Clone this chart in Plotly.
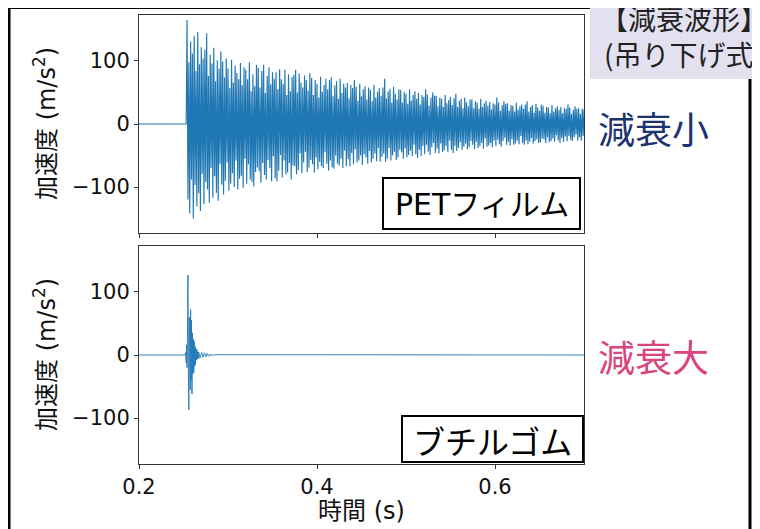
import plotly.graph_objects as go

# ---------------- data ----------------
t_start = 0.2
t_end = 0.7

# PET film: acceleration samples (m/s^2); first sample = onset baseline
pet_onset = 0.253
pet_dt = 0.001
pet_values = [
    0,
    165, -120, 98, -142, 131, -88, 112, -150, 140, -97, 84, -131, 146, -110, 95, -138, 122, -79, 104, -127,
    118, -92, 144, -104, 76, -125, 110, -70, 96, -117, 121, -83, 68, -109, 101, -122, 88, -64, 115, -96,
    99, -112, 74, -90, 104, -61, 88, -106, 57, -95, 102, -78, 66, -100, 93, -58, 81, -104, 71, -87,
    97, -82, 62, -101, 90, -55, 86, -95, 71, -64, 98, -88, 52, -92, 79, -99, 60, -76, 94, -69,
    89, -75, 58, -93, 84, -62, 94, -81, 49, -88, 76, -57, 90, -70, 63, -91, 82, -51, 72, -86,
    82, -91, 55, -74, 87, -49, 71, -85, 64, -58, 86, -80, 46, -77, 79, -62, 52, -88, 74, -66,
    78, -67, 86, -80, 50, -73, 80, -47, 66, -78, 58, -61, 77, -44, 70, -76, 53, -69, 81, -57,
    73, -64, 46, -77, 70, -53, 64, -72, 42, -60, 75, -67, 51, -70, 62, -45, 72, -63, 55, -74,
    70, -58, 74, -69, 44, -71, 61, -50, 68, -63, 40, -66, 72, -55, 49, -70, 64, -42, 58, -67,
    65, -56, 41, -67, 62, -46, 57, -64, 70, -40, 59, -61, 37, -58, 64, -50, 44, -65, 55, -48,
    60, -53, 39, -63, 58, -43, 54, -61, 36, -55, 62, -47, 42, -59, 51, -38, 57, -60, 45, -52,
    58, -47, 72, -60, 41, -55, 52, -38, 56, -58, 34, -50, 59, -44, 48, -57, 39, -53, 55, -41,
    54, -45, 34, -55, 51, -39, 48, -53, 32, -49, 55, -42, 37, -51, 46, -33, 52, -48, 40, -54,
    49, -41, 31, -51, 46, -35, 43, -48, 55, -33, 47, -44, 29, -49, 42, -37, 50, -30, 45, -46,
    45, -39, 28, -47, 42, -31, 40, -45, 27, -42, 46, -35, 33, -44, 38, -26, 43, -41, 30, -46,
    41, -35, 48, -43, 27, -38, 37, -29, 40, -41, 25, -36, 42, -31, 34, -40, 28, -37, 39, -27,
    39, -33, 25, -40, 36, -28, 34, -38, 24, -35, 40, -30, 27, -39, 33, -23, 37, -36, 29, -34,
    35, -30, 23, -37, 33, -26, 31, -35, 42, -25, 34, -32, 21, -36, 30, -27, 36, -22, 32, -33,
    33, -28, 21, -34, 30, -24, 29, -33, 20, -31, 34, -26, 23, -32, 28, -19, 31, -30, 24, -33,
    31, -26, 36, -32, 20, -28, 27, -22, 30, -31, 18, -27, 32, -24, 26, -30, 21, -29, 31, -23,
    29, -24, 18, -30, 27, -21, 26, -29, 17, -27, 30, -23, 20, -28, 25, -18, 28, -26, 22, -30,
    27, -22, 17, -28, 25, -20, 24, -27, 31, -19, 26, -25, 16, -27, 23, -21, 28, -17, 24, -26,
    25, -21, 16, -26, 24, -19, 23, -25,
]

# Butyl rubber: acceleration samples (m/s^2), starting at onset
rubber_onset = 0.252
rubber_dt = 0.0005
rubber_values = [
    0, 4, -12, 16, -20, 38, 127, -35, -87, 60,
    20, -55, 72, -40, 55, -62, 35, -30, 25, -28,
    22, -18, 14, -15, 10, -8, 9, -6, 5, -6,
    5, 2, -3, -5, -3, 1, 4, 4, 1, -3,
    -4, -2, 2, 3.5, 2, -1.5, -3, -2, 1, 2.5,
    1.5, -1, -2, -1.5, 0.5, 1.5, 1, -0.5, -1.5, -1,
    0.5, 1, 0.5, -0.5, -1, -0.5, 0.5, 0.5, 0, 0,
]

x_ticks = [0.2, 0.4, 0.6]
x_tick_text = ["0.2", "0.4", "0.6"]
y_ticks = [-100, 0, 100]
y_tick_text = ["\u2212100", "0", "100"]
y_range = [-173, 173]

pet_label = "PETフィルム"
rubber_label = "ブチルゴム"
y_title = "加速度 (m/s<sup>2</sup>)"
x_title = "時間 (s)"
small_label = "減衰小"
large_label = "減衰大"
box_line1 = "【減衰波形】"
box_line2 = "(吊り下げ式)"

# ---------------- build series ----------------
pet_x = [t_start] + [pet_onset + i * pet_dt for i in range(len(pet_values))]
pet_y = [0] + pet_values
rub_x = [t_start] + [rubber_onset + i * rubber_dt for i in range(len(rubber_values))] + [t_end]
rub_y = [0] + rubber_values + [0]

# page has an 8px body margin: figure occupies the rest of the 760x529 window
OFF = 8
W, H = 760 - OFF, 529 - OFF
def px(x):
    return (x - OFF) / W
def py(y):
    return 1 - (y - OFF) / H

BLUE = "#1f77b4"
FONT = "DejaVu Sans, Noto Sans CJK JP"
JP = "Noto Sans CJK JP, DejaVu Sans"

fig = go.Figure()
fig.add_trace(go.Scatter(x=pet_x, y=pet_y, mode="lines", xaxis="x", yaxis="y",
                         line=dict(color=BLUE, width=1.15), showlegend=False, hoverinfo="skip"))
fig.add_trace(go.Scatter(x=rub_x, y=rub_y, mode="lines", xaxis="x2", yaxis="y2",
                         line=dict(color=BLUE, width=0.9), showlegend=False, hoverinfo="skip"))

def axis(**kw):
    d = dict(showline=True, linecolor="#333333", linewidth=1, mirror=True,
             ticks="outside", ticklen=4, tickwidth=1, tickcolor="#333333",
             showgrid=False, zeroline=False, automargin=False,
             tickfont=dict(family="DejaVu Sans", size=21, color="#111111"))
    d.update(kw)
    return d

xa = axis(range=[t_start, t_end], tickvals=x_ticks, domain=[px(139), px(584)], anchor="y",
          showticklabels=False)
ya = axis(range=y_range, tickvals=y_ticks, ticktext=y_tick_text, domain=[py(233), py(15)], anchor="x")
xa2 = axis(range=[t_start, t_end], tickvals=x_ticks, ticktext=x_tick_text,
           domain=[px(139), px(584)], anchor="y2")
ya2 = axis(range=y_range, tickvals=y_ticks, ticktext=y_tick_text, domain=[py(464), py(246)], anchor="x2")

shapes = [
    dict(type="line", xref="paper", yref="paper", x0=px(9), x1=px(9), y0=py(7), y1=py(545),
         line=dict(color="black", width=3)),
    dict(type="line", xref="paper", yref="paper", x0=px(8), x1=px(592), y0=py(7.5), y1=py(7.5),
         line=dict(color="black", width=3)),
    dict(type="line", xref="paper", yref="paper", x0=px(750), x1=px(750), y0=py(79), y1=py(545),
         line=dict(color="black", width=3)),
    dict(type="rect", xref="paper", yref="paper", x0=px(590), x1=px(770), y0=py(79), y1=py(-10),
         fillcolor="#e3e1f0", line=dict(width=0)),
    dict(type="rect", xref="paper", yref="paper", x0=px(383), x1=px(580), y0=py(229), y1=py(178),
         fillcolor="white", line=dict(color="black", width=2)),
    dict(type="rect", xref="paper", yref="paper", x0=px(402), x1=px(583), y0=py(462), y1=py(416),
         fillcolor="white", line=dict(color="black", width=2)),
]

def ann(text, x, y, size, family=FONT, color="#111111", xanchor="center", angle=0):
    return dict(text=text, x=px(x), y=py(y), xref="paper", yref="paper", showarrow=False,
                textangle=angle, font=dict(family=family, size=size, color=color),
                xanchor=xanchor, yanchor="middle")

annotations = [
    ann(pet_label, 481.5, 204, 30, color="black"),
    ann(rubber_label, 492.5, 440, 32, family=JP, color="black"),
    ann(y_title, 45, 124, 24, angle=-90),
    ann(y_title, 45, 355, 24, angle=-90),
    ann(x_title, 361, 511, 24),
    ann(small_label, 596, 128, 37, family=JP, color="#1c3370", xanchor="left"),
    ann(large_label, 596, 356, 37, family=JP, color="#d9457c", xanchor="left"),
    ann(box_line1, 598, 18, 28, family=JP, color="#222222", xanchor="left"),
    ann(box_line2, 602, 54, 28, family=JP, color="#222222", xanchor="left"),
]

fig.update_layout(
    template="none", autosize=False,
    width=W, height=H, margin=dict(l=0, r=0, t=0, b=0, pad=0),
    paper_bgcolor="white", plot_bgcolor="white",
    xaxis=xa, yaxis=ya, xaxis2=xa2, yaxis2=ya2,
    shapes=shapes, annotations=annotations, showlegend=False,
)

fig.write_html("out.html")
